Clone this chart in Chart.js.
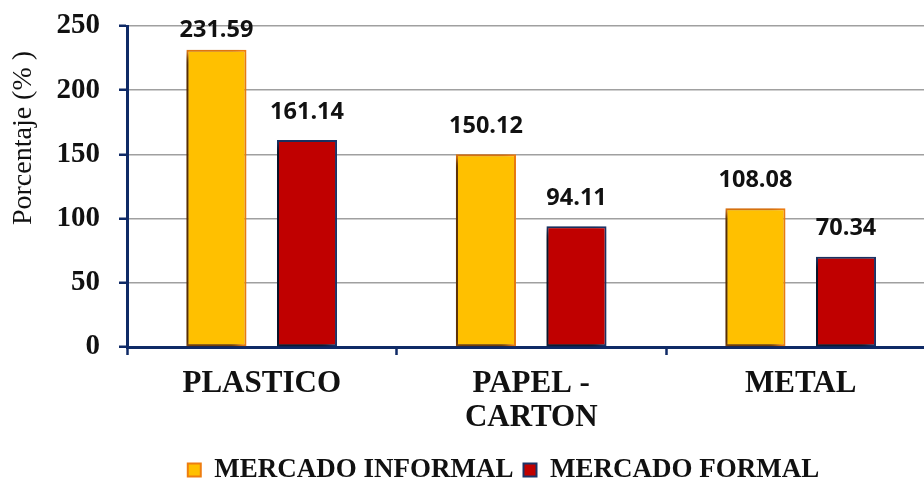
<!DOCTYPE html>
<html>
<head>
<meta charset="utf-8">
<script src="https://cdn.jsdelivr.net/npm/chart.js@4.4.1/dist/chart.umd.min.js"></script>
<style>
  html, body { margin: 0; padding: 0; background: #fff; overflow: hidden; }
  #wrap { width: 924px; height: 486px; overflow: hidden; }
</style>
</head>
<body>
<div id="wrap"><canvas id="myChart" width="1007" height="486"></canvas></div>
<script>
'use strict';

var categories = [['PLASTICO'], ['PAPEL -', 'CARTON'], ['METAL']];
var informal = [231.59, 150.12, 108.08];
var formal = [161.14, 94.11, 70.34];
var yTicks = [0, 50, 100, 150, 200, 250];

var navy = '#0f2a66';
var serif = "'Liberation Serif', 'Times New Roman', serif";

// soft shadow to the left of each bar
var barShadow = {
    id: 'barShadow',
    beforeDatasetsDraw: function (chart) {
        var ctx = chart.ctx;
        ctx.save();
        ctx.shadowColor = 'rgba(0,0,0,0.7)';
        ctx.shadowBlur = 8;
        ctx.shadowOffsetX = -6;
        ctx.shadowOffsetY = 4;
    },
    afterDatasetsDraw: function (chart) {
        chart.ctx.restore();
    }
};

// value above every bar
var valueLabels = {
    id: 'valueLabels',
    afterDatasetsDraw: function (chart) {
        var ctx = chart.ctx;
        ctx.save();
        ctx.font = "bold 23.5px 'Open Sans', sans-serif";
        ctx.fillStyle = '#111';
        ctx.textAlign = 'center';
        ctx.textBaseline = 'middle';
        chart.data.datasets.forEach(function (ds, i) {
            chart.getDatasetMeta(i).data.forEach(function (bar, j) {
                var y = Math.max(bar.y - 28, chart.chartArea.top + 4);
                ctx.fillText(ds.data[j].toFixed(2), bar.x, y);
            });
        });
        ctx.restore();
    }
};

// rotated axis title, sitting a bit above the middle
var yTitle = {
    id: 'yTitle',
    afterDraw: function (chart) {
        var ctx = chart.ctx;
        ctx.save();
        ctx.translate(24, 138);
        ctx.rotate(-Math.PI / 2);
        ctx.font = '28px ' + serif;
        ctx.fillStyle = '#111';
        ctx.textAlign = 'center';
        ctx.textBaseline = 'middle';
        ctx.fillText('Porcentaje (% )', 0, 0);
        ctx.restore();
    }
};

var ctx = document.getElementById('myChart').getContext('2d');
var chart = new Chart(ctx, {
    type: 'bar',
    data: {
        labels: categories,
        datasets: [{
            label: 'MERCADO INFORMAL',
            data: informal,
            backgroundColor: '#ffc000',
            borderColor: '#ee7d10',
            borderWidth: 2,
            borderSkipped: false
        }, {
            label: 'MERCADO FORMAL',
            data: formal,
            backgroundColor: '#c00000',
            borderColor: '#1c3468',
            borderWidth: 2,
            borderSkipped: false
        }]
    },
    options: {
        responsive: false,
        animation: false,
        devicePixelRatio: 1,
        categoryPercentage: 0.672,
        barPercentage: 0.663,
        layout: { padding: { top: 26, left: 0, right: 0, bottom: 0 } },
        plugins: {
            tooltip: { enabled: false },
            legend: {
                position: 'bottom',
                maxHeight: 39.5,
                labels: {
                    boxWidth: 13,
                    boxHeight: 13,
                    padding: 10,
                    color: '#111',
                    font: { family: serif, size: 27, weight: 'bold' }
                }
            }
        },
        scales: {
            x: {
                grid: {
                    drawOnChartArea: false,
                    drawTicks: true,
                    tickLength: 8,
                    tickWidth: 2.5,
                    tickColor: navy
                },
                border: { color: navy, width: 3 },
                ticks: {
                    padding: 12,
                    color: '#111',
                    font: { family: serif, size: 31, weight: 'bold', lineHeight: 1.1 }
                },
                afterFit: function (scale) { scale.height = 99.5; }
            },
            y: {
                min: 0,
                max: 250,
                afterBuildTicks: function (scale) {
                    scale.ticks = yTicks.map(function (v) { return { value: v }; });
                },
                grid: {
                    color: '#a0a0a0',
                    lineWidth: 1.5,
                    tickLength: 8,
                    tickWidth: 2.5,
                    tickColor: navy
                },
                border: { color: navy, width: 3 },
                ticks: {
                    padding: 19,
                    color: '#111',
                    // small line height keeps the top label from pushing the plot down
                    font: { family: serif, size: 29, weight: 'bold', lineHeight: 0.4 }
                },
                afterFit: function (scale) { scale.width = 127; }
            },
            // empty right-hand axis that only reserves room
            spare: {
                type: 'linear',
                position: 'right',
                grid: { display: false },
                border: { display: false },
                ticks: { display: false },
                afterFit: function (scale) { scale.width = 71.5; }
            }
        }
    },
    plugins: [barShadow, valueLabels, yTitle]
});
</script>
</body>
</html>
